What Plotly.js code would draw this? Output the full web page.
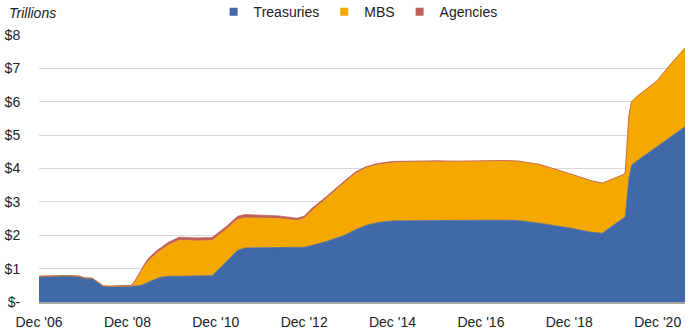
<!DOCTYPE html>
<html>
<head>
<meta charset="utf-8">
<script src="https://cdn.plot.ly/plotly-3.0.1.min.js"></script>
<style>
html,body{margin:0;padding:0;background:#fff;}
#chart{width:700px;height:335px;}
</style>
</head>
<body>
<div id="chart"></div>
<script>
// Dates (observation points) shared by all series
var dates = [
  "2006-12-01","2007-03-01","2007-06-01","2007-08-01","2007-11-01","2007-12-15",
  "2008-02-15","2008-03-15","2008-04-15","2008-05-15","2008-07-01","2008-12-01",
  "2009-01-01","2009-02-01","2009-03-01","2009-04-01","2009-05-01","2009-06-01",
  "2009-07-01","2009-08-01","2009-09-01","2009-11-01","2010-02-01","2010-07-01",
  "2010-11-01","2011-01-01","2011-03-01","2011-05-01","2011-06-01","2011-08-01",
  "2011-12-01","2012-05-01","2012-10-01","2012-12-01","2013-02-01","2013-06-01",
  "2013-11-01","2014-02-01","2014-05-01","2014-08-01","2014-12-01","2015-06-01",
  "2015-12-01","2016-06-01","2016-12-01","2017-06-01","2017-10-01","2018-04-01",
  "2018-12-01","2019-06-01","2019-09-01","2019-12-01","2020-02-25","2020-03-08",
  "2020-04-08","2020-04-30","2020-06-10","2020-11-25","2021-03-15","2021-07-15"
];
// Treasuries ($ trillions)
var treasuries = [
  0.77,0.78,0.79,0.79,0.77,0.72,
  0.71,0.64,0.54,0.48,0.47,0.47,
  0.47,0.47,0.48,0.51,0.56,0.61,
  0.66,0.70,0.74,0.77,0.77,0.77,
  0.79,1.00,1.22,1.45,1.55,1.62,
  1.63,1.63,1.64,1.64,1.69,1.81,
  2.00,2.17,2.30,2.38,2.43,2.44,
  2.44,2.44,2.45,2.45,2.44,2.36,
  2.22,2.09,2.06,2.30,2.50,2.55,
  3.70,4.10,4.22,4.65,4.93,5.25
];
// MBS ($ trillions)
var mbs = [
  0,0,0,0,0,0,
  0,0,0,0,0,0,
  0.01,0.13,0.29,0.43,0.56,0.65,
  0.71,0.76,0.80,0.92,1.08,1.06,
  1.05,1.00,0.96,0.93,0.92,0.90,
  0.88,0.87,0.80,0.86,1.04,1.28,
  1.58,1.68,1.72,1.73,1.74,1.76,
  1.76,1.76,1.77,1.78,1.78,1.76,
  1.63,1.54,1.50,1.40,1.32,1.33,
  1.90,1.90,1.93,1.97,2.18,2.36
];
// Agencies ($ trillions)
var agencies = [
  0,0,0,0,0,0,
  0,0,0,0,0,0.01,
  0.02,0.04,0.05,0.06,0.07,0.08,
  0.08,0.08,0.08,0.09,0.09,0.09,
  0.09,0.09,0.09,0.09,0.10,0.10,
  0.09,0.08,0.07,0.07,0.07,0.06,
  0.05,0.05,0.04,0.04,0.04,0.03,
  0.03,0.02,0.02,0.01,0.005,0.002,
  0.002,0.002,0.002,0.002,0.002,0.002,
  0.002,0.002,0.002,0.002,0.002,0.002
];
var seriesNames = ["Treasuries","MBS","Agencies"];
var seriesColors = ["#4169a8","#f5a800","#c0605a"];
var xTickVals = ["2006-12-01","2008-12-01","2010-12-01","2012-12-01","2014-12-01","2016-12-01","2018-12-01","2020-12-01"];
var xTickText = ["Dec '06","Dec '08","Dec '10","Dec '12","Dec '14","Dec '16","Dec '18","Dec '20"];
var yTickVals = [0,1,2,3,4,5,6,7,8];
var yTickText = ["$-","$1","$2","$3","$4","$5","$6","$7","$8"];

var values = [treasuries, mbs, agencies];
var traces = [];
for (var i = 0; i < 3; i++) {
  traces.push({
    type: "scatter", mode: "lines", x: dates, y: values[i],
    stackgroup: "one", name: seriesNames[i], showlegend: false,
    line: {color: seriesColors[i], width: 0.8, shape: "linear"},
    fillcolor: seriesColors[i], hoverinfo: "skip"
  });
}
for (var j = 0; j < 3; j++) {
  traces.push({
    type: "scatter", mode: "markers", x: [null], y: [null],
    name: seriesNames[j], showlegend: true,
    marker: {symbol: "square", size: 8, color: seriesColors[j]}
  });
}

var FONT = "Liberation Sans, Arial, sans-serif";
var layout = {
  width: 700, height: 335,
  margin: {l: 39, r: 15, t: 35, b: 33, pad: 0, autoexpand: false},
  paper_bgcolor: "#ffffff", plot_bgcolor: "#ffffff",
  font: {family: FONT, size: 14, color: "#222222"},
  showlegend: true,
  legend: {orientation: "h", x: 0.494, xanchor: "center", y: 1.086, yanchor: "middle",
           traceorder: "normal", font: {family: FONT, size: 14, color: "#222222"},
           itemwidth: 30, bgcolor: "rgba(0,0,0,0)"},
  xaxis: {type: "date", range: ["2006-12-01","2021-07-15"],
          tickmode: "array", tickvals: xTickVals, ticktext: xTickText,
          showgrid: false, zeroline: false, showline: true, linecolor: "#a6a6a6", linewidth: 2,
          ticks: "outside", ticklen: 6, tickcolor: "rgba(0,0,0,0)",
          tickfont: {family: FONT, size: 14, color: "#222222"}, fixedrange: true},
  yaxis: {range: [0, 8], tickmode: "array", tickvals: yTickVals, ticktext: yTickText,
          showgrid: true, gridcolor: "#d9d9d9", gridwidth: 1, zeroline: false, showline: false,
          ticks: "outside", ticklen: 15, tickcolor: "rgba(0,0,0,0)",
          tickfont: {family: FONT, size: 14, color: "#222222"}, fixedrange: true},
  annotations: [{text: "Trillions", xref: "paper", yref: "paper",
                 x: -0.0495, y: 1.0824, xanchor: "left", yanchor: "middle", showarrow: false,
                 font: {family: FONT, size: 14, color: "#222222", style: "italic"}}]
};
Plotly.newPlot("chart", traces, layout, {displayModeBar: false, staticPlot: true});
</script>
</body>
</html>
